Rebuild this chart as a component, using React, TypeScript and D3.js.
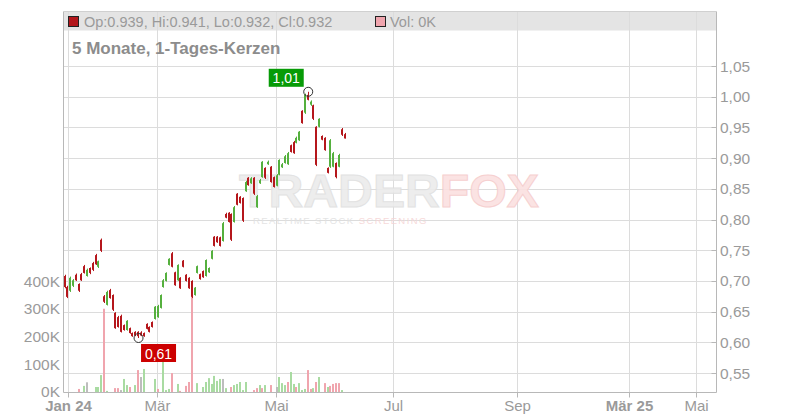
import React from "react";
import * as d3 from "d3";

const W = 800;
const H = 420;

// OHLC per trading session (chronological)
const opens = [
  0.708, 0.690, 0.684, 0.692, 0.710, 0.695, 0.711, 0.724, 0.708, 0.721,
  0.729, 0.742, 0.723, 0.767, 0.675, 0.661, 0.685, 0.677, 0.648, 0.641,
  0.643, 0.628, 0.620, 0.623, 0.615, 0.617, 0.617, 0.616, 0.615, 0.630,
  0.625, 0.633, 0.638, 0.641, 0.656, 0.690, 0.700, 0.726, 0.745, 0.714,
  0.701, 0.705, 0.733, 0.710, 0.705, 0.700, 0.677, 0.713, 0.711, 0.716,
  0.708, 0.714, 0.736, 0.772, 0.772, 0.771, 0.765, 0.809, 0.811, 0.809,
  0.796, 0.842, 0.837, 0.835, 0.846, 0.868, 0.859, 0.868, 0.820, 0.859,
  0.869, 0.884, 0.890, 0.886, 0.869, 0.855, 0.873, 0.885, 0.892, 0.890,
  0.921, 0.926, 0.925, 0.929, 0.977, 0.974, 1.003, 0.987, 0.986, 0.951,
  0.951, 0.936, 0.933, 0.884, 0.886, 0.886, 0.892, 0.886, 0.947, 0.939,
];
const highs = [
  0.710, 0.692, 0.707, 0.703, 0.712, 0.696, 0.713, 0.726, 0.720, 0.722,
  0.731, 0.744, 0.733, 0.769, 0.677, 0.684, 0.687, 0.678, 0.649, 0.643,
  0.645, 0.629, 0.636, 0.624, 0.616, 0.618, 0.618, 0.618, 0.616, 0.631,
  0.626, 0.634, 0.659, 0.661, 0.678, 0.703, 0.714, 0.737, 0.747, 0.715,
  0.727, 0.706, 0.734, 0.711, 0.706, 0.701, 0.690, 0.725, 0.712, 0.717,
  0.735, 0.722, 0.750, 0.773, 0.773, 0.772, 0.796, 0.811, 0.812, 0.810,
  0.822, 0.843, 0.838, 0.836, 0.863, 0.869, 0.869, 0.869, 0.840, 0.866,
  0.895, 0.885, 0.896, 0.887, 0.870, 0.874, 0.898, 0.892, 0.905, 0.910,
  0.922, 0.928, 0.935, 0.944, 0.978, 1.005, 1.008, 0.994, 0.987, 0.952,
  0.965, 0.937, 0.934, 0.885, 0.931, 0.910, 0.893, 0.907, 0.949, 0.941,
];
const lows = [
  0.688, 0.672, 0.682, 0.690, 0.700, 0.682, 0.700, 0.712, 0.707, 0.711,
  0.716, 0.726, 0.721, 0.747, 0.664, 0.660, 0.671, 0.651, 0.622, 0.624,
  0.616, 0.619, 0.619, 0.614, 0.609, 0.610, 0.607, 0.610, 0.609, 0.621,
  0.616, 0.624, 0.637, 0.640, 0.655, 0.689, 0.699, 0.725, 0.722, 0.692,
  0.700, 0.687, 0.722, 0.699, 0.687, 0.672, 0.676, 0.712, 0.702, 0.705,
  0.707, 0.713, 0.735, 0.756, 0.762, 0.756, 0.764, 0.802, 0.795, 0.765,
  0.795, 0.823, 0.826, 0.796, 0.845, 0.855, 0.858, 0.840, 0.819, 0.858,
  0.868, 0.866, 0.889, 0.860, 0.852, 0.854, 0.872, 0.884, 0.891, 0.889,
  0.909, 0.907, 0.924, 0.928, 0.956, 0.972, 0.994, 0.985, 0.962, 0.887,
  0.950, 0.929, 0.912, 0.875, 0.884, 0.885, 0.867, 0.885, 0.936, 0.932,
];
const closes = [
  0.690, 0.674, 0.705, 0.701, 0.701, 0.684, 0.701, 0.713, 0.718, 0.713,
  0.718, 0.727, 0.732, 0.749, 0.666, 0.682, 0.672, 0.653, 0.623, 0.625,
  0.617, 0.620, 0.635, 0.615, 0.610, 0.611, 0.610, 0.611, 0.610, 0.622,
  0.617, 0.625, 0.658, 0.659, 0.677, 0.701, 0.713, 0.736, 0.723, 0.693,
  0.726, 0.688, 0.723, 0.700, 0.688, 0.674, 0.689, 0.724, 0.703, 0.706,
  0.734, 0.721, 0.749, 0.757, 0.763, 0.757, 0.794, 0.803, 0.796, 0.767,
  0.820, 0.824, 0.827, 0.798, 0.861, 0.856, 0.867, 0.842, 0.838, 0.864,
  0.894, 0.868, 0.894, 0.861, 0.853, 0.872, 0.897, 0.890, 0.903, 0.908,
  0.910, 0.908, 0.933, 0.943, 0.957, 1.003, 0.995, 0.992, 0.964, 0.889,
  0.964, 0.930, 0.913, 0.876, 0.929, 0.908, 0.869, 0.905, 0.938, 0.932,
];
// volume in thousands, and its colour class (g up, r down, n unchanged)
const volumesK = [
  0, 0, 0, 0, 0, 11, 0, 22, 35, 0,
  0, 18, 18, 61, 300, 4, 0, 0, 14, 14,
  7, 47, 25, 18, 0, 25, 79, 54, 83, 0,
  0, 0, 47, 11, 0, 121, 7, 11, 68, 0,
  29, 4, 0, 22, 36, 342, 0, 32, 0, 18,
  36, 50, 29, 58, 40, 47, 47, 14, 0, 18,
  25, 29, 36, 7, 36, 0, 0, 7, 14, 25,
  14, 25, 0, 25, 0, 18, 54, 32, 25, 36,
  72, 29, 18, 32, 7, 11, 79, 11, 14, 36,
  54, 0, 32, 18, 22, 29, 32, 32, 7, 0,
];
const volumeDir = [
  "g","g","g","g","g","r","g","g","n","g",
  "g","g","g","g","r","g","g","g","r","r",
  "n","g","g","r","g","g","r","n","g","g",
  "g","g","g","r","g","g","g","g","r","g",
  "g","r","g","r","r","r","g","g","g","g",
  "g","g","g","g","g","g","n","g","g","r",
  "g","g","g","g","g","g","g","r","r","g",
  "r","g","g","r","g","n","g","g","g","r",
  "g","g","r","g","g","g","r","r","g","r",
  "g","g","r","g","r","r","r","r","g","r",
];

const priceTicks = [0.55, 0.6, 0.65, 0.7, 0.75, 0.8, 0.85, 0.9, 0.95, 1.0, 1.05];
const volumeTicksK = [0, 100, 200, 300, 400];
const monthTickDates = ["2024-01-01", "2024-03-01", "2024-05-01", "2024-07-01", "2024-09-01", "2025-03-01", "2025-05-01"];
const monthTickLabels = ["Jan 24", "Mär", "Mai", "Jul", "Sep", "Mär 25", "Mai"];
const monthTickBold = [true, false, false, false, false, true, false];

const FONT = "'Liberation Sans', Arial, Helvetica, sans-serif";
const RED = "#b5171c";
const GREEN = "#55b03e";
const VOL_COL: Record<string, string> = { g: "#a9dba2", r: "#f0a5ae", n: "#bdbdbd" };
const GRID = "#dcdcdc";
const AXIS = "#b8b8b8";
const LABEL = "#9a9a9a";

const fmtComma = (v: number) => d3.format(".2f")(v).replace(".", ",");

export default function App() {
  const left = 63.5;
  const right = 716.5;
  const top = 11.5;
  const bottom = 392.5;
  const n = opens.length;

  const x = d3.scaleLinear().domain([0, n - 1]).range([64.5, 344.5]);
  const y = d3.scaleLinear().domain([0.55, 1.05]).range([373, 66]);
  const yv = d3.scaleLinear().domain([0, 400]).range([392, 281]);
  const xt = d3
    .scaleTime()
    .domain(monthTickDates.map((s) => new Date(s + "T00:00:00")))
    .range([67.5, 156.5, 275.5, 392.5, 516.5, 628.5, 695.5]);

  const hiIdx = d3.maxIndex(highs);
  const loIdx = d3.minIndex(lows);
  const last = n - 1;

  const hx = x(hiIdx);
  const hy = y(highs[hiIdx]);
  const lx = x(loIdx);
  const ly = y(lows[loIdx]);

  return (
    <div style={{ position: "absolute", left: 0, top: 0, width: W, height: H, background: "#fff" }}>
      <svg width={W} height={H} style={{ display: "block", fontFamily: FONT }}>
        <rect x={0} y={0} width={W} height={H} fill="#fff" />
        {/* header band */}
        <rect x={left} y={top} width={right - left} height={19} fill="#e4e4e4" />
        {/* horizontal grid */}
        {priceTicks.map((t) => (
          <line key={"hg" + t} x1={left} x2={right} y1={Math.round(y(t)) + 0.5} y2={Math.round(y(t)) + 0.5} stroke={GRID} />
        ))}
        {/* vertical grid */}
        {monthTickDates.map((d, i) => {
          const px = Math.round(xt(new Date(d + "T00:00:00"))) + 0.5;
          return <line key={"vg" + i} x1={px} x2={px} y1={top} y2={bottom} stroke={GRID} />;
        })}
        {/* watermark */}
        <g opacity={0.9}>
          <text x={239} y={207} fontSize={46} fontWeight="bold" textLength={300} lengthAdjust="spacingAndGlyphs" fill="#ececec" stroke="#e0e0e0" strokeWidth={1}>
            TRADER<tspan fill="#fbe1e1" stroke="#f6cccc">FOX</tspan>
          </text>
          <text x={253} y={224} fontSize={9.5} letterSpacing={1.4} fill="#e2e2e2">
            REALTIME STOCK <tspan fill="#f6d6d6">SCREENING</tspan>
          </text>
        </g>
        {/* volume bars */}
        {volumesK.map((v, i) =>
          v > 0 ? (
            <rect key={"v" + i} x={Math.round(x(i)) - 1} y={yv(v)} width={2} height={yv(0) - yv(v)} fill={VOL_COL[volumeDir[i]]} />
          ) : null
        )}
        {/* candles */}
        {opens.map((o, i) => {
          const c = closes[i];
          const up = c >= o;
          const col = up ? GREEN : RED;
          const cx = Math.round(x(i));
          const yTop = y(Math.max(o, c));
          const yBot = y(Math.min(o, c));
          return (
            <g key={"c" + i}>
              <line x1={cx + 0.5} x2={cx + 0.5} y1={y(highs[i])} y2={y(lows[i])} stroke={col} strokeWidth={1} />
              <rect x={cx - 1} y={yTop} width={2} height={Math.max(1, yBot - yTop)} fill={col} />
            </g>
          );
        })}
        {/* axes lines */}
        <line x1={left} x2={left} y1={top} y2={bottom} stroke={AXIS} />
        <line x1={right} x2={right} y1={top} y2={bottom} stroke={AXIS} />
        <line x1={left} x2={right} y1={bottom} y2={bottom} stroke={AXIS} />
        <line x1={left} x2={right} y1={top} y2={top} stroke="#d0d0d0" />
        {/* right price axis */}
        {priceTicks.map((t) => (
          <g key={"pt" + t}>
            <line x1={right - 5} x2={right} y1={Math.round(y(t)) + 0.5} y2={Math.round(y(t)) + 0.5} stroke={AXIS} />
            <text x={720} y={y(t) + 5.5} fontSize={15.5} fill={LABEL}>
              {fmtComma(t)}
            </text>
          </g>
        ))}
        {/* left volume axis */}
        {volumeTicksK.map((t) => (
          <text key={"vt" + t} x={60} y={yv(t) + (t === 0 ? 4.5 : 5.5)} fontSize={15.5} fill={LABEL} textAnchor="end">
            {t + "K"}
          </text>
        ))}
        {/* bottom time axis */}
        {monthTickDates.map((d, i) => {
          const px = Math.round(xt(new Date(d + "T00:00:00"))) + 0.5;
          return (
            <g key={"mt" + i}>
              <line x1={px} x2={px} y1={bottom} y2={bottom + 5} stroke={AXIS} />
              <text x={px} y={411} fontSize={15} fill={LABEL} textAnchor="middle" fontWeight={monthTickBold[i] ? "bold" : "normal"}>
                {monthTickLabels[i]}
              </text>
            </g>
          );
        })}
        {/* header legend */}
        <rect x={68.5} y={16.5} width={10} height={10} fill={closes[last] >= opens[last] ? GREEN : "#b3161b"} stroke="#222" />
        <text x={84} y={26.5} fontSize={14.5} fill={LABEL}>
          {`Op:${d3.format(".3f")(opens[last])}, Hi:${d3.format(".3f")(highs[last])}, Lo:${d3.format(".3f")(lows[last])}, Cl:${d3.format(".3f")(closes[last])}`}
        </text>
        <rect x={375.5} y={16.5} width={10} height={10} fill="#f0a5ae" stroke="#222" />
        <text x={390} y={26.5} fontSize={14.5} fill={LABEL}>
          {`Vol: ${volumesK[last]}K`}
        </text>
        <text x={72} y={54} fontSize={17} fontWeight="bold" fill="#8c8c8c">
          5 Monate, 1-Tages-Kerzen
        </text>
        {/* high marker */}
        <circle cx={hx + 0.5} cy={hy} r={4.5} fill="none" stroke="#333" strokeWidth={1} />
        <rect x={hx - 39} y={hy - 23} width={35} height={18} fill="#079b07" />
        <text x={hx - 21.5} y={hy - 8.5} fontSize={14} fill="#fff" textAnchor="middle">
          {fmtComma(highs[hiIdx])}
        </text>
        {/* low marker */}
        <circle cx={lx + 0.5} cy={ly} r={4.5} fill="none" stroke="#333" strokeWidth={1} />
        <rect x={lx + 3} y={ly + 6} width={35} height={18} fill="#cc0000" />
        <text x={lx + 20.5} y={ly + 20.5} fontSize={14} fill="#fff" textAnchor="middle">
          {fmtComma(lows[loIdx])}
        </text>
      </svg>
    </div>
  );
}
